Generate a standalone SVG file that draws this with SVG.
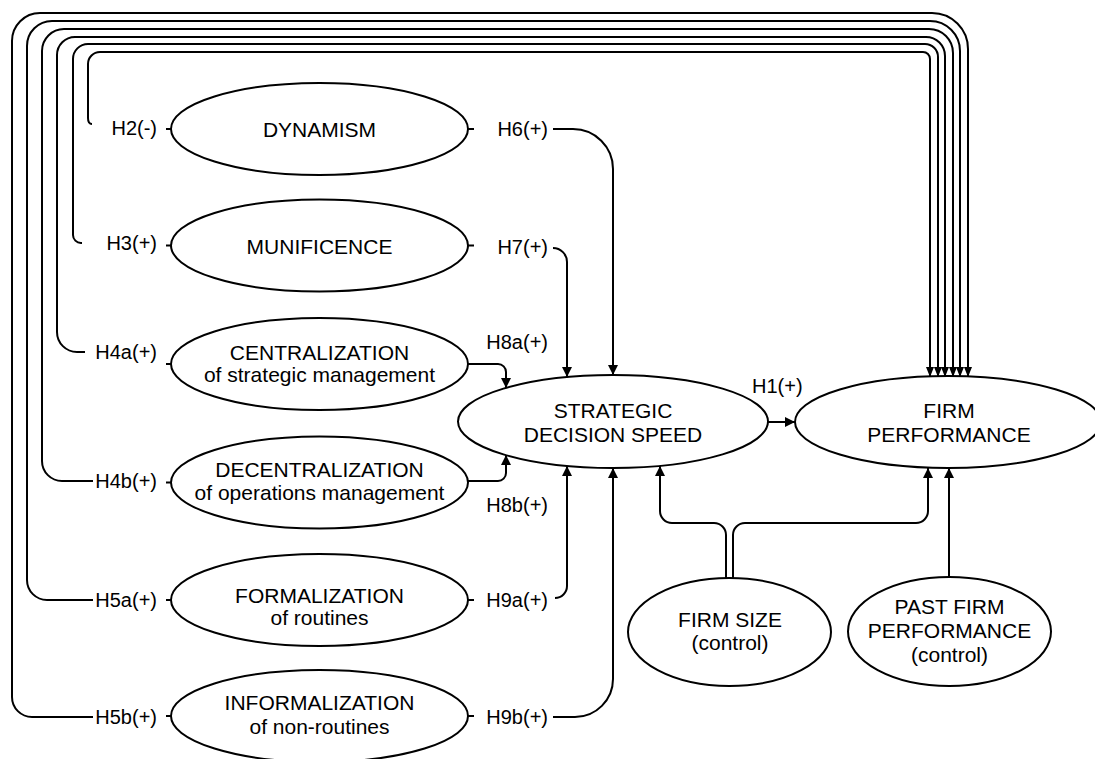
<svg xmlns="http://www.w3.org/2000/svg" width="1095" height="759" viewBox="0 0 1095 759">
<style>
  .n { fill: #fff; stroke: #000; stroke-width: 2; }
  .t { font-family: "Liberation Sans", Arial, sans-serif; font-size: 21px; fill: #000; text-anchor: middle; }
  .l { font-family: "Liberation Sans", Arial, sans-serif; font-size: 20px; fill: #000; }
  .c { fill: none; stroke: #000; stroke-width: 2; }
  .a { marker-end: url(#arr); }
  .an { marker-end: url(#arrn); }
</style>
<defs>
  <marker id="arr" viewBox="0 0 10 10" refX="10" refY="5" markerWidth="10" markerHeight="10" markerUnits="userSpaceOnUse" orient="auto">
    <path d="M0,0 L10,5 L0,10 z" fill="#000"/>
  </marker>
  <marker id="arrn" viewBox="0 0 10 8" refX="10" refY="4" markerWidth="10" markerHeight="8" markerUnits="userSpaceOnUse" orient="auto">
    <path d="M0,0 L10,4 L0,8 z" fill="#000"/>
  </marker>
</defs>
<rect width="1095" height="759" fill="#fff"/>

<g id="connectors">
  <!-- long feedback lines to FIRM PERFORMANCE -->
  <path class="c an" d="M93,717 H32 A20,20 0 0 1 12,697 V41 A28,28 0 0 1 40,13 H932 A36,36 0 0 1 968,49 V377"/>
  <path class="c an" d="M93,600 H47 A20,20 0 0 1 27,580 V46 A25,25 0 0 1 52,21 H930 A30,30 0 0 1 960,51 V377"/>
  <path class="c an" d="M93,481 H62 A20,20 0 0 1 42,461 V51 A22,22 0 0 1 64,29 H929 A24,24 0 0 1 953,53 V377"/>
  <path class="c an" d="M85,352 H77 A20,20 0 0 1 57,332 V55 A18,18 0 0 1 75,37 H926 A19,19 0 0 1 945,56 V377"/>
  <path class="c an" d="M82,243 H81 A8,8 0 0 1 73,235 V59 A15,15 0 0 1 88,44 H925 A13,13 0 0 1 938,57 V377"/>
  <path class="c an" d="M92,124 Q88,124 88,118 V64 A12,12 0 0 1 100,52 H923 A7,7 0 0 1 930,59 V377"/>
  <!-- ticks -->
  <path class="c" d="M166,129 H171 M468,129 H474 M166,245.5 H171 M468,245.5 H474 M166,364 H171 M166,482.5 H171 M166,600 H171 M468,600 H474 M166,716 H171 M468,716 H474"/>
  <!-- into STRATEGIC DECISION SPEED -->
  <path class="c a" d="M553,129 H573 A40,40 0 0 1 613,169 V375"/>
  <path class="c a" d="M553,248 A14,14 0 0 1 567,262 V377"/>
  <path class="c a" d="M468,364 H498 A8,8 0 0 1 506,372 V388"/>
  <path class="c a" d="M468,481 H498 A8,8 0 0 0 506,473 V455"/>
  <path class="c a" d="M555,598 A12,12 0 0 0 567,586 V466"/>
  <path class="c a" d="M553,717 H575 A38,38 0 0 0 613,679 V468"/>
  <path class="c a" d="M726,578 V535 A12,12 0 0 0 714,523 H672 A12,12 0 0 1 660,511 V466"/>
  <!-- into FIRM PERFORMANCE -->
  <path class="c a" d="M768,422 H795"/>
  <path class="c a" d="M733,578 V535 A12,12 0 0 1 745,523 H916 A12,12 0 0 0 928,511 V468"/>
  <path class="c a" d="M949,577 V468"/>
</g>

<g id="dynamism"><ellipse class="n" cx="319.5" cy="129" rx="148.5" ry="46"/><text class="t" x="319.5" y="137">DYNAMISM</text></g>
<g id="munificence"><ellipse class="n" cx="319.5" cy="245.5" rx="148.5" ry="46"/><text class="t" x="319.5" y="254">MUNIFICENCE</text></g>
<g id="centralization"><ellipse class="n" cx="319.5" cy="364" rx="148.5" ry="46"/><text class="t" x="319.5" y="360">CENTRALIZATION</text><text class="t" x="319.5" y="382">of strategic management</text></g>
<g id="decentralization"><ellipse class="n" cx="319.5" cy="482.5" rx="148.5" ry="46"/><text class="t" x="319.5" y="477">DECENTRALIZATION</text><text class="t" x="319.5" y="500">of operations management</text></g>
<g id="formalization"><ellipse class="n" cx="319.5" cy="600" rx="148.5" ry="46"/><text class="t" x="319.5" y="603">FORMALIZATION</text><text class="t" x="319.5" y="625">of routines</text></g>
<g id="informalization"><ellipse class="n" cx="319.5" cy="716" rx="148.5" ry="46"/><text class="t" x="319.5" y="710">INFORMALIZATION</text><text class="t" x="319.5" y="734">of non-routines</text></g>
<g id="sds"><ellipse class="n" cx="613" cy="421.5" rx="155" ry="46.5"/><text class="t" x="613" y="418">STRATEGIC</text><text class="t" x="613" y="442">DECISION SPEED</text></g>
<g id="fp"><ellipse class="n" cx="948" cy="422" rx="153" ry="46"/><text class="t" x="949" y="418">FIRM</text><text class="t" x="949" y="442">PERFORMANCE</text></g>
<g id="firmsize"><ellipse class="n" cx="729.5" cy="632" rx="101.5" ry="54"/><text class="t" x="730" y="627">FIRM SIZE</text><text class="t" x="730" y="650">(control)</text></g>
<g id="pfp"><ellipse class="n" cx="949.5" cy="631.5" rx="101.5" ry="54.5"/><text class="t" x="949.5" y="614">PAST FIRM</text><text class="t" x="949.5" y="638">PERFORMANCE</text><text class="t" x="949.5" y="662">(control)</text></g>

<g id="labels">
  <text class="l" x="157" y="135" text-anchor="end">H2(-)</text>
  <text class="l" x="157" y="250" text-anchor="end">H3(+)</text>
  <text class="l" x="157" y="359" text-anchor="end">H4a(+)</text>
  <text class="l" x="157" y="488" text-anchor="end">H4b(+)</text>
  <text class="l" x="157" y="607" text-anchor="end">H5a(+)</text>
  <text class="l" x="157" y="724" text-anchor="end">H5b(+)</text>
  <text class="l" x="548" y="136" text-anchor="end">H6(+)</text>
  <text class="l" x="548" y="254" text-anchor="end">H7(+)</text>
  <text class="l" x="548" y="349" text-anchor="end">H8a(+)</text>
  <text class="l" x="548" y="512" text-anchor="end">H8b(+)</text>
  <text class="l" x="548" y="607" text-anchor="end">H9a(+)</text>
  <text class="l" x="548" y="724" text-anchor="end">H9b(+)</text>
  <text class="l" x="752" y="393">H1(+)</text>
</g>
</svg>
